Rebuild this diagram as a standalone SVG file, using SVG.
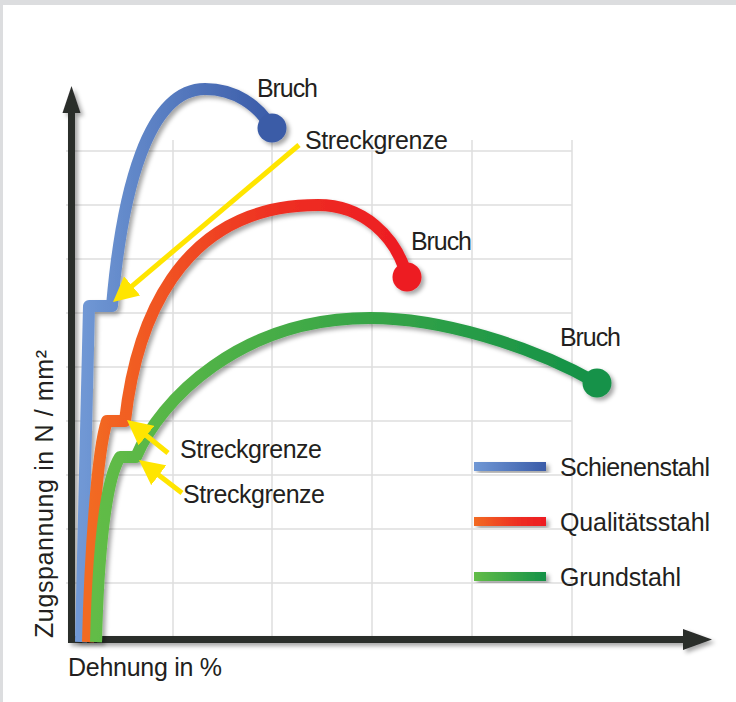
<svg xmlns="http://www.w3.org/2000/svg" width="736" height="702" viewBox="0 0 736 702">
<style>
.grid{stroke:#dedede;stroke-width:1.5;fill:none}
.axis{stroke:#2b2d2c;stroke-width:7;fill:none}
.curve{fill:none;stroke-width:12;stroke-linejoin:round;stroke-linecap:butt}
.lbl{font-family:"Liberation Sans",Arial,sans-serif;font-size:25px;fill:#231f20}
.yarrow{stroke:#ffe500;stroke-width:5;fill:none}
</style>
<defs>
<filter id="sh" x="-20%" y="-20%" width="140%" height="140%">
<feDropShadow dx="3" dy="3" stdDeviation="2" flood-color="#000" flood-opacity="0.35"/>
</filter>
<linearGradient id="gBlue" x1="0" y1="0" x2="1" y2="0">
<stop offset="0" stop-color="#7098d5"/><stop offset="1" stop-color="#3a5ba8"/>
</linearGradient>
<linearGradient id="gRed" x1="0" y1="0" x2="1" y2="0">
<stop offset="0" stop-color="#f26b21"/><stop offset="0.6" stop-color="#ee2f24"/><stop offset="1" stop-color="#ed1c24"/>
</linearGradient>
<linearGradient id="gGreen" x1="0" y1="0" x2="1" y2="0">
<stop offset="0" stop-color="#62bc46"/><stop offset="1" stop-color="#139147"/>
</linearGradient>
<marker id="ah" viewBox="0 0 25 25" refX="13" refY="12.5" markerWidth="25" markerHeight="25" markerUnits="userSpaceOnUse" orient="auto">
<path d="M0,0 L25,12.5 L0,25 z" fill="#ffe500"/>
</marker>
</defs>
<rect x="0" y="0" width="736" height="702" fill="#dcdddf"/>
<rect x="3" y="5" width="733" height="697" fill="#ffffff"/>
<g id="grid">
<path class="grid" d="M173 140V637M272 140V637M372 140V637M472 140V637M572 140V637"/>
<path class="grid" d="M66 151H572M66 205H572M66 259H572M66 313H572M66 367H572M66 421H572M66 475H572M66 529H572M66 583H572"/>
</g>
<g id="axes" filter="url(#sh)">
<path class="axis" d="M71.5 643V110M68 639.5H686"/>
<polygon points="71.5,86 62.5,113 80.5,113" fill="#2b2d2c"/>
<polygon points="712,639.5 683,629 683,650" fill="#2b2d2c"/>
</g>
<g id="curves" filter="url(#sh)">
<g id="schienenstahl">
<path class="curve" stroke="url(#gBlue)" d="M81 642 L89 306 L112 306 C122 190, 148 89, 205 89 C235 89, 258 105, 272 128"/>
<circle cx="272" cy="128" r="14.5" fill="#3b5ba7"/>
</g>
<g id="qualitaetsstahl">
<path class="curve" stroke="url(#gRed)" d="M88 642 C90 560, 97 450, 107 421 L125 421 C135 330, 175 205, 318 205 C362 205, 396 235, 407 277"/>
<circle cx="407" cy="277" r="14.5" fill="#ed1c24"/>
</g>
<g id="grundstahl">
<path class="curve" stroke="url(#gGreen)" d="M96 642 C98 560, 105 480, 120 457 L136 457 C160 400, 240 318, 370 318 C440 318, 530 345, 597 383"/>
<circle cx="597" cy="383" r="14.5" fill="#17924a"/>
</g>
</g>
<g id="connectors">
<line class="yarrow" x1="299" y1="145" x2="122.2" y2="294.3" marker-end="url(#ah)"/>
<line class="yarrow" x1="168" y1="453" x2="136.3" y2="427.5" marker-end="url(#ah)"/>
<line class="yarrow" x1="182" y1="493" x2="148.5" y2="467.3" marker-end="url(#ah)"/>
</g>
<g id="labels">
<text class="lbl" x="257" y="97" textLength="61">Bruch</text>
<text class="lbl" x="411" y="250" textLength="61">Bruch</text>
<text class="lbl" x="560" y="346" textLength="61">Bruch</text>
<text class="lbl" x="305" y="149" textLength="143">Streckgrenze</text>
<text class="lbl" x="180" y="458" textLength="142">Streckgrenze</text>
<text class="lbl" x="183" y="503" textLength="142">Streckgrenze</text>
<text class="lbl" x="68" y="676" textLength="154">Dehnung in %</text>
<text class="lbl" transform="translate(53,638) rotate(-90)" x="0" y="0" textLength="288">Zugspannung in N / mm²</text>
</g>
<g id="legend">
<g id="legend-blue">
<rect x="474" y="462" width="72" height="9" fill="url(#gBlue)" filter="url(#sh)"/>
<text class="lbl" x="560" y="476" textLength="150">Schienenstahl</text>
</g>
<g id="legend-red">
<rect x="474" y="517" width="72" height="9" fill="url(#gRed)" filter="url(#sh)"/>
<text class="lbl" x="560" y="531" textLength="150">Qualitätsstahl</text>
</g>
<g id="legend-green">
<rect x="474" y="572" width="72" height="9" fill="url(#gGreen)" filter="url(#sh)"/>
<text class="lbl" x="560" y="586" textLength="121">Grundstahl</text>
</g>
</g>
</svg>
